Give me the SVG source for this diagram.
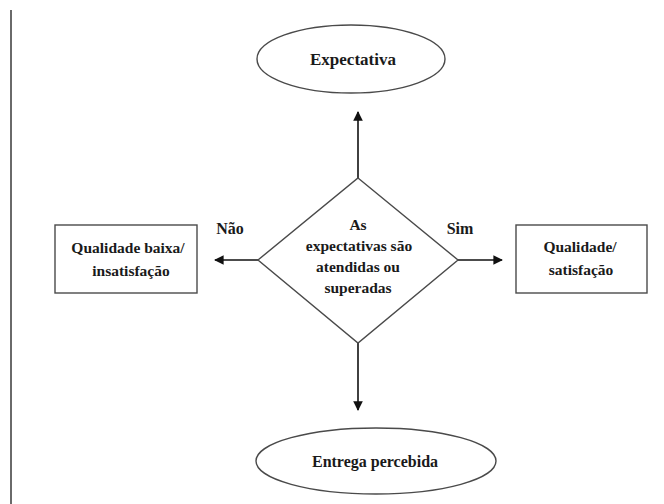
<svg xmlns="http://www.w3.org/2000/svg" width="664" height="504" viewBox="0 0 664 504">
  <style>
    .t { font-family: "Liberation Serif", Tinos, "Times New Roman", Times, "DejaVu Serif", serif; font-weight: bold; fill: #1a1a1a; text-anchor: middle; }
    .shape { fill: #ffffff; stroke: #4a4a4a; stroke-width: 1.4; }
    .conn { stroke: #111111; stroke-width: 1.6; fill: none; marker-end: url(#ah); }
  </style>
  <defs>
    <marker id="ah" viewBox="0 0 10 10" refX="9" refY="5" markerWidth="6" markerHeight="6" markerUnits="strokeWidth" orient="auto">
      <path d="M0,0 L10,5 L0,10 Z" fill="#111111"/>
    </marker>
    <linearGradient id="topline" x1="0" y1="0" x2="1" y2="0">
      <stop offset="0" stop-color="#222222"/>
      <stop offset="0.25" stop-color="#333333"/>
      <stop offset="0.4" stop-color="#999999"/>
      <stop offset="0.55" stop-color="#888888"/>
      <stop offset="0.7" stop-color="#555555"/>
      <stop offset="1" stop-color="#777777"/>
    </linearGradient>
  </defs>
  <rect x="0" y="0" width="664" height="504" fill="#ffffff"/>
  <g id="frame">
    <line x1="10" y1="10.5" x2="664" y2="10.5" stroke="url(#topline)" stroke-width="2"/>
    <line x1="11" y1="10" x2="11" y2="504" stroke="#6a6a6a" stroke-width="2"/>
  </g>
  <g id="connectors">
    <line class="conn" x1="358" y1="178" x2="358" y2="112"/>
    <line class="conn" x1="358" y1="343" x2="358" y2="410"/>
    <line class="conn" x1="258" y1="260" x2="215" y2="260"/>
    <line class="conn" x1="458" y1="260" x2="502" y2="260"/>
    <text class="t" x="230" y="234" font-size="16">Não</text>
    <text class="t" x="460" y="234" font-size="16">Sim</text>
  </g>
  <g id="expectativa">
    <ellipse class="shape" cx="351" cy="59" rx="94" ry="34"/>
    <text class="t" x="353" y="65" font-size="17">Expectativa</text>
  </g>
  <g id="decisao">
    <polygon class="shape" points="358,178 458,260 358,343 258,260"/>
    <text class="t" x="358" y="230" font-size="15.5">As</text>
    <text class="t" x="359" y="251" font-size="15.5">expectativas são</text>
    <text class="t" x="358" y="272" font-size="15.5">atendidas ou</text>
    <text class="t" x="358" y="293" font-size="15.5">superadas</text>
  </g>
  <g id="qualidade-baixa">
    <rect class="shape" x="55" y="225" width="142" height="68"/>
    <text class="t" x="128" y="253" font-size="15.5">Qualidade baixa/</text>
    <text class="t" x="131" y="276" font-size="15.5">insatisfação</text>
  </g>
  <g id="qualidade-satisfacao">
    <rect class="shape" x="516" y="225" width="131" height="68"/>
    <text class="t" x="580" y="252" font-size="15.5">Qualidade/</text>
    <text class="t" x="581" y="275" font-size="15.5">satisfação</text>
  </g>
  <g id="entrega">
    <ellipse class="shape" cx="376" cy="461" rx="120" ry="33"/>
    <text class="t" x="375" y="467" font-size="16">Entrega percebida</text>
  </g>
</svg>
